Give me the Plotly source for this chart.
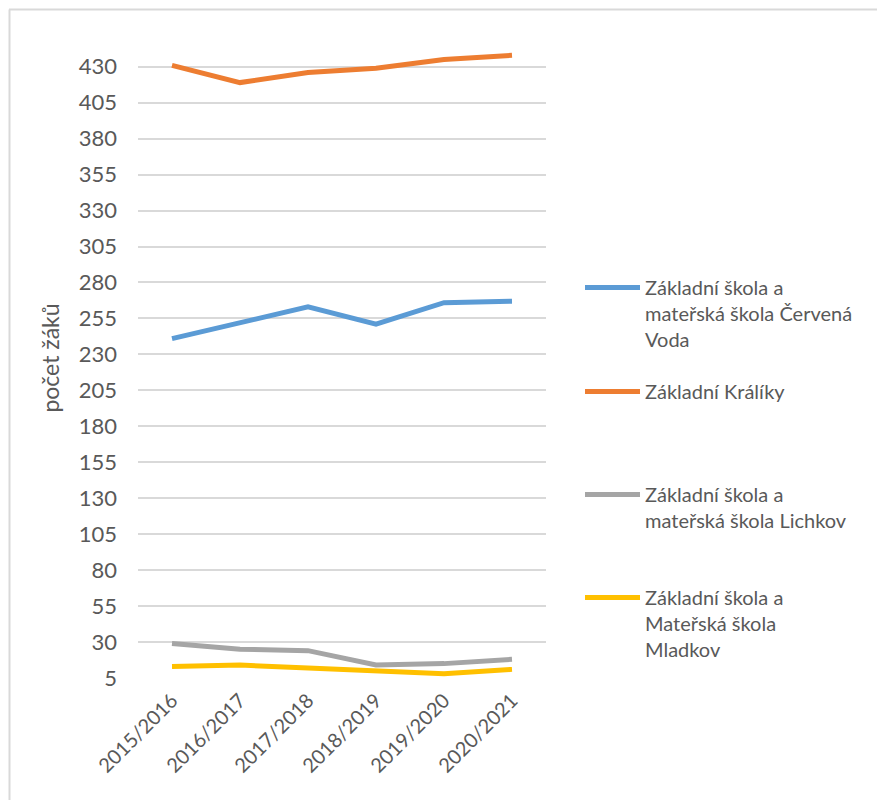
import plotly.graph_objects as go

years = ["2015/2016", "2016/2017", "2017/2018", "2018/2019", "2019/2020", "2020/2021"]
cervena_voda = [241, 252, 263, 251, 266, 267]
kraliky = [431, 419, 426, 429, 435, 438]
lichkov = [29, 25, 24, 14, 15, 18]
mladkov = [13, 14, 12, 10, 8, 11]

names = [
    "Základní škola a<br>mateřská škola Červená<br>Voda",
    "Základní Králíky",
    "Základní škola a<br>mateřská škola Lichkov",
    "Základní škola a<br>Mateřská škola<br>Mladkov",
]
colors = ["#5B9BD5", "#ED7D31", "#A5A5A5", "#FFC000"]
series = [cervena_voda, kraliky, lichkov, mladkov]
legend_ids = ["legend", "legend2", "legend3", "legend4"]

FONT = "Lato"
TXT = "#595959"

OFF = 8  # page body margin
W, H = 885, 800
L, T = 138 - OFF, 38 - OFF
PR, PB = 546 - OFF, 678 - OFF
R, B = W - PR, H - PB
pw, ph = W - L - R, H - T - B

def px_x(px):
    return (px - OFF - L) / pw

def px_y(py):
    return (H - B - (py - OFF)) / ph

fig = go.Figure()
for name, col, vals, lid in zip(names, colors, series, legend_ids):
    fig.add_trace(go.Scatter(
        x=years, y=vals, name=name, mode="lines",
        line=dict(color=col, width=5),
        legend=lid,
    ))

legend_y_px = [283, 387, 490, 593]
layout_legends = {}
for lid, ypx in zip(legend_ids, legend_y_px):
    layout_legends[lid] = dict(
        x=px_x(580), y=px_y(ypx - 15), xanchor="left", yanchor="top",
        font=dict(family=FONT, size=20, color=TXT),
        bgcolor="rgba(0,0,0,0)", itemwidth=55, valign="top",
        tracegroupgap=0,
    )

fig.update_layout(
    width=W, height=H,
    margin=dict(l=L, r=R, t=T, b=B),
    paper_bgcolor="white", plot_bgcolor="white",
    font=dict(family=FONT, size=20, color=TXT),
    showlegend=True,
    xaxis=dict(
        type="category", range=[-0.5, 5.5], showgrid=False, zeroline=False,
        showline=False, ticks="", tickangle=-45,
        tickfont=dict(family=FONT, size=20, color=TXT),
        ticklabelstandoff=6,
    ),
    yaxis=dict(
        range=[5, 450], tick0=5, dtick=25, showgrid=True,
        gridcolor="#D9D9D9", gridwidth=1.5, zeroline=False, showline=False,
        ticks="", tickfont=dict(family=FONT, size=22, color=TXT),
        ticklabelstandoff=20,
        title=dict(text="počet žáků", font=dict(family=FONT, size=23, color=TXT), standoff=12),
    ),
    shapes=[
        dict(type="line", xref="paper", yref="paper",
             x0=px_x(9), x1=px_x(900), y0=px_y(9.5), y1=px_y(9.5),
             line=dict(color="#D9D9D9", width=2)),
        dict(type="line", xref="paper", yref="paper",
             x0=px_x(9.5), x1=px_x(9.5), y0=px_y(9.5), y1=px_y(820),
             line=dict(color="#D9D9D9", width=2)),
    ],
    **layout_legends,
)

fig.write_html("out.html")
